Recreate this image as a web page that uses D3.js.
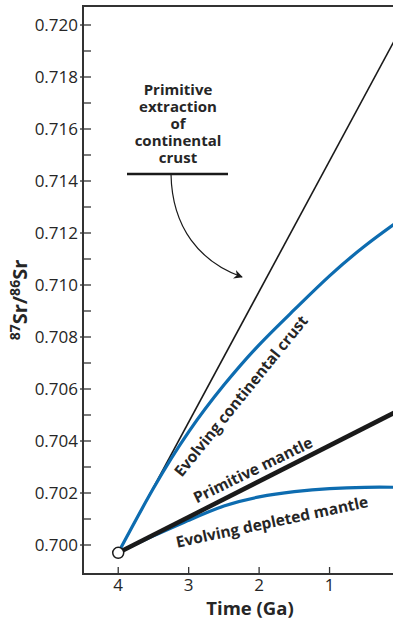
<!DOCTYPE html>
<html><head><meta charset="utf-8">
<script src="https://cdn.jsdelivr.net/npm/d3@7"></script>
<style>
html,body{margin:0;padding:0;background:#fff;}
svg{display:block;font-family:"Open Sans","Noto Sans",sans-serif;}
</style></head>
<body>
<script>
// ---- data ----
const startPoint = {t: 4.0, v: 0.6997};
const crustExtractionTimes = [4.0, 0.0];
const crustExtractionValues = [0.6997, 0.7198];
const primitiveMantleTimes = [4.0, 0.0];
const primitiveMantleValues = [0.6997, 0.7052];
const evolvingCrustTimes = [4.0, 3.5, 3.0, 2.5, 2.0, 1.5, 1.0, 0.5, 0.0];
const evolvingCrustValues = [0.6997, 0.70218, 0.70435, 0.70615, 0.70770, 0.70905, 0.71035, 0.71150, 0.71250];
const depletedMantleTimes = [4.0, 3.5, 3.0, 2.5, 2.0, 1.5, 1.0, 0.5, 0.0];
const depletedMantleValues = [0.6997, 0.70035, 0.70095, 0.7015, 0.70185, 0.70205, 0.70217, 0.70222, 0.70222];
const xTicks = [4, 3, 2, 1];
const yMajorTicks = [0.700, 0.702, 0.704, 0.706, 0.708, 0.710, 0.712, 0.714, 0.716, 0.718, 0.720];
const yMinorTicks = [0.701, 0.703, 0.705, 0.707, 0.709, 0.711, 0.713, 0.715, 0.717, 0.719];
const annotationLines = ["Primitive", "extraction", "of", "continental", "crust"];

const W = 393, H = 621;
const svg = d3.select("body").append("svg").attr("width", W).attr("height", H);

const x = d3.scaleLinear().domain([4.5, 0]).range([83, 400]);
const y = d3.scaleLinear().domain([0.700, 0.720]).range([545, 25]);
const yBottom = 574, yTop = 6, xLeft = 83;

const blue = "#0d6cb0", ink = "#1a1a1a", txt = "#262626";

const defs = svg.append("defs");
defs.append("clipPath").attr("id", "plot").append("rect")
  .attr("x", xLeft).attr("y", yTop).attr("width", W - xLeft).attr("height", yBottom - yTop);
defs.append("marker").attr("id", "arrow").attr("viewBox", "0 0 10 10")
  .attr("refX", 9).attr("refY", 5).attr("markerWidth", 9).attr("markerHeight", 9)
  .attr("markerUnits", "userSpaceOnUse").attr("orient", "auto")
  .append("path").attr("d", "M0,0 L10,5 L0,10 L3,5 Z").attr("fill", ink);

// axes frame
svg.append("line").attr("x1", xLeft).attr("x2", W).attr("y1", yTop).attr("y2", yTop)
  .attr("stroke", "#333").attr("stroke-width", 1.8);
svg.append("line").attr("x1", xLeft).attr("x2", W).attr("y1", yBottom).attr("y2", yBottom)
  .attr("stroke", "#333").attr("stroke-width", 2);
svg.append("line").attr("x1", xLeft).attr("x2", xLeft).attr("y1", yTop - 1).attr("y2", yBottom + 1)
  .attr("stroke", "#333").attr("stroke-width", 2);

// y ticks
const yAxisG = svg.append("g");
yAxisG.selectAll("line.maj").data(yMajorTicks).join("line").attr("class", "maj")
  .attr("x1", xLeft - 3).attr("x2", xLeft + 8).attr("y1", d => y(d)).attr("y2", d => y(d))
  .attr("stroke", "#333").attr("stroke-width", 1.3);
yAxisG.selectAll("line.min").data(yMinorTicks).join("line").attr("class", "min")
  .attr("x1", xLeft).attr("x2", xLeft + 8).attr("y1", d => y(d)).attr("y2", d => y(d))
  .attr("stroke", "#333").attr("stroke-width", 1.3);
yAxisG.selectAll("text").data(yMajorTicks).join("text")
  .attr("x", xLeft - 5).attr("y", d => y(d)).attr("dy", "0.35em")
  .attr("text-anchor", "end").attr("font-size", 17).attr("fill", txt)
  .text(d => d3.format(".3f")(d));

// x ticks
const xAxisG = svg.append("g");
xAxisG.selectAll("line").data(xTicks).join("line")
  .attr("x1", d => x(d)).attr("x2", d => x(d)).attr("y1", yBottom - 7).attr("y2", yBottom)
  .attr("stroke", "#333").attr("stroke-width", 1.3);
xAxisG.selectAll("text").data(xTicks).join("text")
  .attr("x", d => x(d)).attr("y", yBottom + 11).attr("dy", "0.35em")
  .attr("text-anchor", "middle").attr("font-size", 17).attr("fill", txt)
  .text(d => d);

// axis titles
svg.append("text").attr("x", 250).attr("y", 615).attr("text-anchor", "middle")
  .attr("font-size", 18.5).attr("font-weight", "bold").attr("fill", txt).text("Time (Ga)");
const yt = svg.append("text").attr("transform", "translate(27,300) rotate(-90)")
  .attr("text-anchor", "middle").attr("font-size", 20).attr("font-weight", "bold").attr("fill", txt);
yt.append("tspan").attr("font-size", 14).attr("dy", -7).text("87");
yt.append("tspan").attr("dy", 7).text("Sr/");
yt.append("tspan").attr("font-size", 14).attr("dy", -7).text("86");
yt.append("tspan").attr("dy", 7).text("Sr");

// lines
const plot = svg.append("g").attr("clip-path", "url(#plot)");
const line = d3.line().x(d => x(d[0])).y(d => y(d[1]));
const curve = d3.line().x(d => x(d[0])).y(d => y(d[1])).curve(d3.curveNatural);
const zip = (a, b) => a.map((t, i) => [t, b[i]]);

plot.append("path").datum(zip(crustExtractionTimes, crustExtractionValues))
  .attr("d", line).attr("fill", "none").attr("stroke", ink).attr("stroke-width", 1.6);
plot.append("path").datum(zip(evolvingCrustTimes, evolvingCrustValues))
  .attr("d", curve).attr("fill", "none").attr("stroke", blue).attr("stroke-width", 3.2);
plot.append("path").datum(zip(depletedMantleTimes, depletedMantleValues))
  .attr("d", curve).attr("fill", "none").attr("stroke", blue).attr("stroke-width", 3.2);
plot.append("path").datum(zip(primitiveMantleTimes, primitiveMantleValues))
  .attr("d", line).attr("fill", "none").attr("stroke", ink).attr("stroke-width", 4.5);

svg.append("circle").attr("cx", x(startPoint.t)).attr("cy", y(startPoint.v)).attr("r", 5.5)
  .attr("fill", "#fff").attr("stroke", ink).attr("stroke-width", 1.5);

// curve labels
function curveLabel(text, cx, cy, ang) {
  svg.append("text").attr("transform", `translate(${cx},${cy}) rotate(${ang})`)
    .attr("text-anchor", "middle").attr("dy", "0.35em")
    .attr("font-size", 15.5).attr("font-weight", "bold").attr("fill", txt).text(text);
}
curveLabel("Evolving continental crust", 241, 396, -51);
curveLabel("Primitive mantle", 253, 470, -26);
curveLabel("Evolving depleted mantle", 272, 522, -12);

// annotation
const ann = svg.append("text").attr("text-anchor", "middle").attr("font-size", 15)
  .attr("font-weight", "bold").attr("fill", txt);
annotationLines.forEach((s, i) => {
  ann.append("tspan").attr("x", 178).attr("y", 95 + i * 17).text(s);
});
svg.append("line").attr("x1", 127).attr("x2", 228).attr("y1", 174).attr("y2", 174)
  .attr("stroke", ink).attr("stroke-width", 2.5);
svg.append("path").attr("d", "M171,174 C172,228 200,262 242,277")
  .attr("fill", "none").attr("stroke", ink).attr("stroke-width", 1.2)
  .attr("marker-end", "url(#arrow)");
</script>
</body></html>
